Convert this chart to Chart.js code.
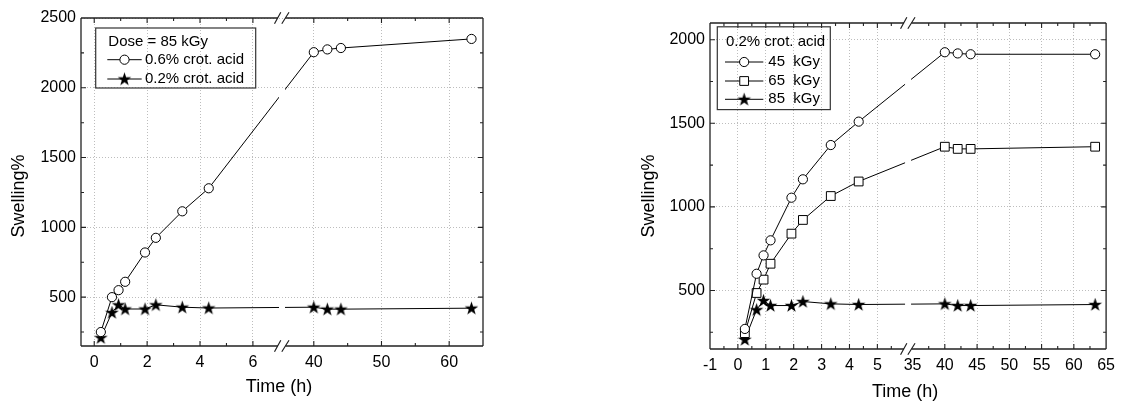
<!DOCTYPE html>
<html>
<head>
<meta charset="utf-8">
<script src="https://cdn.jsdelivr.net/npm/chart.js@4/dist/chart.umd.min.js"></script>
<style>
  html, body { margin: 0; padding: 0; background: #fff; }
  .panel { position: absolute; top: 0; width: 561px; height: 406px; }
</style>
</head>
<body>
<div class="panel" style="left:0"><canvas id="leftChart" width="561" height="406"></canvas></div>
<div class="panel" style="left:561px"><canvas id="rightChart" width="561" height="406"></canvas></div>
<script>
// time points (h), same for both panels
const times = [0.25, 0.67, 0.92, 1.17, 1.92, 2.33, 3.33, 4.33, 40, 42, 44, 63.3];

// left panel: dose = 85 kGy
const swell06 = [250, 500, 550, 610, 820, 925, 1115, 1280, 2255, 2275, 2285, 2350];
const swell02 = [210, 390, 445, 415, 415, 445, 428, 422, 428, 414, 414, 421];

// right panel: 0.2% crot. acid
const kgy45 = [270, 600, 710, 800, 1055, 1165, 1370, 1510, 1925, 1918, 1913, 1913];
const kgy65 = [245, 485, 565, 660, 840, 922, 1065, 1152, 1360, 1347, 1347, 1360];
const kgy85 = [207, 385, 440, 410, 410, 434, 420, 416, 420, 410, 410, 416];

// axes
const leftSegments = [[-0.5, 7.1], [35.3, 65]];
const leftXTicks = [0, 2, 4, 6, 40, 50, 60];
const leftXMinor = [1, 3, 5, 45, 55];
const leftYTicks = [500, 1000, 1500, 2000, 2500];
const leftYMinor = [250, 750, 1250, 1750, 2250];

const rightSegments = [[-1, 6.1], [34.3, 65]];
const rightXTicks = [-1, 0, 1, 2, 3, 4, 5, 35, 40, 45, 50, 55, 60, 65];
const rightXMinor = [-0.5, 0.5, 1.5, 2.5, 3.5, 4.5, 5.5, 37.5, 42.5, 47.5, 52.5, 57.5, 62.5];
const rightYTicks = [500, 1000, 1500, 2000];
const rightYMinor = [250, 750, 1250, 1750];

const FONT = "'Liberation Sans', Arial, sans-serif";
Chart.defaults.font.family = FONT;
Chart.defaults.font.size = 16;
Chart.defaults.color = '#000';

// linear scale with a break: each segment gets an equal share of the axis
class BrokenScale extends Chart.LinearScale {
  determineDataLimits() {
    const segs = this.options.segments;
    this.min = segs[0][0];
    this.max = segs[segs.length - 1][1];
  }
  buildTicks() {
    this.start = this.min;
    this.end = this.max;
    return this.options.tickValues.map(v => ({ value: v }));
  }
  getPixelForValue(value) {
    if (value === null || isNaN(value)) return NaN;
    const segs = this.options.segments;
    const n = segs.length;
    let i = 0;
    while (i < n - 1 && value > segs[i][1]) i++;
    const a = segs[i][0], b = segs[i][1];
    let f = (value - a) / (b - a);
    if (i > 0 && f < 0) f = 0;
    return this.getPixelForDecimal((i + f) / n);
  }
  getValueForPixel(pixel) {
    const segs = this.options.segments;
    const n = segs.length;
    const d = this.getDecimalForPixel(pixel) * n;
    const i = Math.min(n - 1, Math.max(0, Math.floor(d)));
    return segs[i][0] + (d - i) * (segs[i][1] - segs[i][0]);
  }
}
BrokenScale.id = 'broken';
BrokenScale.defaults = {};
Chart.register(BrokenScale);

// filled five-point star marker
const starImg = (function() {
  const c = document.createElement('canvas');
  c.width = 15; c.height = 15;
  const g = c.getContext('2d');
  g.beginPath();
  for (let i = 0; i < 10; i++) {
    const r = i % 2 ? 2.8 : 7.2;
    const ang = -Math.PI / 2 + i * Math.PI / 5;
    g.lineTo(7.5 + r * Math.cos(ang), 8 + r * Math.sin(ang));
  }
  g.closePath();
  g.fillStyle = '#000';
  g.fill();
  return c;
})();

function series(label, values, style, radius) {
  return {
    label: label,
    data: times.map((t, i) => ({ x: t, y: values[i] })),
    borderColor: '#000',
    borderWidth: 1,
    pointStyle: style,
    pointRadius: radius,
    pointHoverRadius: radius,
    pointBackgroundColor: '#fff',
    pointBorderColor: '#000',
    pointBorderWidth: 1,
    tension: 0,
    fill: false
  };
}

const framePlugin = {
  id: 'frame',
  beforeDatasetsDraw(chart, args, opts) {
    const { ctx, chartArea: a } = chart;
    const bx = chart.scales.x.getPixelForDecimal(0.5);
    ctx.save();
    ctx.beginPath();
    ctx.rect(0, 0, chart.width, chart.height);
    ctx.rect(bx - 3, a.top, 6, a.bottom - a.top);
    ctx.clip('evenodd');
  },
  afterDatasetsDraw(chart) {
    chart.ctx.restore();
  },
  afterDraw(chart, args, opts) {
    const { ctx, chartArea: a } = chart;
    const xs = chart.scales.x, ys = chart.scales.y;
    const bx = xs.getPixelForDecimal(0.5);
    ctx.save();
    ctx.strokeStyle = '#222';
    ctx.lineWidth = 1.3;

    // frame with gaps at the break
    ctx.beginPath();
    ctx.moveTo(a.left, a.top); ctx.lineTo(a.left, a.bottom);
    ctx.moveTo(a.right, a.top); ctx.lineTo(a.right, a.bottom);
    [a.top, a.bottom].forEach(y => {
      ctx.moveTo(a.left, y); ctx.lineTo(bx - 4, y);
      ctx.moveTo(bx + 3.5, y); ctx.lineTo(a.right, y);
    });
    ctx.stroke();

    // inward ticks on all four sides
    ctx.lineWidth = 1.1;
    ctx.beginPath();
    const xTick = (v, len) => {
      const p = xs.getPixelForValue(v);
      if (p <= a.left + 1 || p >= a.right - 1 || Math.abs(p - bx) < 5) return;
      ctx.moveTo(p, a.bottom); ctx.lineTo(p, a.bottom - len);
      ctx.moveTo(p, a.top); ctx.lineTo(p, a.top + len);
    };
    const yTick = (v, len) => {
      const p = ys.getPixelForValue(v);
      if (p <= a.top + 1 || p >= a.bottom - 1) return;
      ctx.moveTo(a.left, p); ctx.lineTo(a.left + len, p);
      ctx.moveTo(a.right, p); ctx.lineTo(a.right - len, p);
    };
    xs.ticks.forEach(t => xTick(t.value, 5));
    opts.xMinor.forEach(v => xTick(v, 3));
    ys.ticks.forEach(t => yTick(t.value, 5));
    opts.yMinor.forEach(v => yTick(v, 3));
    ctx.stroke();

    // break marks
    ctx.lineWidth = 1.2;
    ctx.beginPath();
    [a.top, a.bottom].forEach(y => {
      ctx.moveTo(bx - 7.5, y + 5.7); ctx.lineTo(bx - 1.2, y - 5.7);
      ctx.moveTo(bx - 0.2, y + 5.7); ctx.lineTo(bx + 7, y - 5.7);
    });
    ctx.stroke();

    // axis titles
    ctx.fillStyle = '#000';
    ctx.font = '18px ' + FONT;
    ctx.textAlign = 'center';
    ctx.textBaseline = 'middle';
    ctx.fillText('Time (h)', (a.left + a.right) / 2 - 3, a.bottom + opts.xTitleOffset);
    ctx.save();
    ctx.translate(a.left - opts.yTitleOffset, a.top + opts.yTitleCenter);
    ctx.rotate(-Math.PI / 2);
    ctx.fillText('Swelling%', 0, 0);
    ctx.restore();

    // legend box
    const L = opts.legend;
    const bx0 = a.left + L.x, by0 = a.top + L.y;
    ctx.strokeStyle = '#333';
    ctx.lineWidth = 1.2;
    ctx.strokeRect(bx0, by0, L.w, L.h);
    ctx.font = '15px ' + FONT;
    ctx.textAlign = 'left';
    ctx.fillText(L.title, bx0 + L.titleX, by0 + L.rows[0]);
    chart.data.datasets.forEach((ds, i) => {
      const y = by0 + L.rows[i + 1];
      ctx.strokeStyle = '#000';
      ctx.lineWidth = 1;
      ctx.beginPath();
      ctx.moveTo(bx0 + L.line[0], y);
      ctx.lineTo(bx0 + L.line[1], y);
      ctx.stroke();
      ctx.fillStyle = '#fff';
      Chart.helpers.drawPoint(ctx, {
        pointStyle: ds.pointStyle, radius: ds.pointRadius, borderWidth: 1, rotation: 0
      }, bx0 + (L.line[0] + L.line[1]) / 2, y);
      ctx.fillStyle = '#000';
      ctx.fillText(L.labels[i], bx0 + L.textX, y);
    });
    ctx.restore();
  }
};

function makeChart(id, cfg) {
  const hideGrid = cfg.hideGrid || [];
  return new Chart(document.getElementById(id), {
    type: 'line',
    data: { datasets: cfg.datasets },
    options: {
      responsive: false,
      animation: false,
      devicePixelRatio: 1,
      layout: { padding: cfg.padding },
      scales: {
        x: {
          type: 'broken',
          segments: cfg.segments,
          tickValues: cfg.xTicks,
          afterFit: s => { s.height = cfg.xHeight; },
          grid: {
            drawTicks: false,
            lineWidth: 1,
            color: c => (c.tick && hideGrid.includes(c.tick.value)) ? 'rgba(0,0,0,0)' : '#bdbdbd'
          },
          border: { display: false, dash: [1, 2] },
          ticks: { padding: 7, autoSkip: false, maxRotation: 0, callback: v => String(v) }
        },
        y: {
          type: 'linear',
          min: cfg.yMin,
          max: cfg.yMax,
          afterBuildTicks: s => { s.ticks = cfg.yTicks.map(v => ({ value: v })); },
          afterFit: s => { s.width = cfg.yWidth; },
          grid: { drawTicks: false, lineWidth: 1, color: '#bdbdbd' },
          border: { display: false, dash: [1, 2] },
          ticks: { padding: 5, callback: v => String(v) }
        }
      },
      plugins: {
        legend: { display: false },
        tooltip: { enabled: false },
        frame: cfg.frame
      }
    },
    plugins: [framePlugin]
  });
}

makeChart('leftChart', {
  datasets: [
    series('0.6% crot. acid', swell06, 'circle', 4.6),
    series('0.2% crot. acid', swell02, starImg, 7)
  ],
  segments: leftSegments,
  xTicks: leftXTicks,
  yTicks: leftYTicks,
  yMin: 150,
  yMax: 2500,
  padding: { left: 0, top: 18, right: 78, bottom: 0 },
  yWidth: 81,
  xHeight: 60,
  frame: {
    xMinor: leftXMinor,
    yMinor: leftYMinor,
    xTitleOffset: 41,
    yTitleOffset: 62,
    yTitleCenter: 178,
    legend: {
      x: 14.7, y: 10, w: 160, h: 60,
      title: 'Dose = 85 kGy',
      labels: ['0.6% crot. acid', '0.2% crot. acid'],
      titleX: 12.6, rows: [13.4, 31.7, 51],
      line: [11.6, 46], textX: 49.3
    }
  }
});

makeChart('rightChart', {
  datasets: [
    series('45  kGy', kgy45, 'circle', 4.6),
    series('65  kGy', kgy65, 'rect', 6.2),
    series('85  kGy', kgy85, starImg, 7)
  ],
  segments: rightSegments,
  xTicks: rightXTicks,
  hideGrid: [-1, 35, 65],
  yTicks: rightYTicks,
  yMin: 150,
  yMax: 2100,
  padding: { left: 0, top: 23, right: 13, bottom: 0 },
  yWidth: 149,
  xHeight: 57,
  frame: {
    xMinor: rightXMinor,
    yMinor: rightYMinor,
    xTitleOffset: 43,
    yTitleOffset: 61,
    yTitleCenter: 173,
    legend: {
      x: 7.3, y: 3.8, w: 113, h: 82.8,
      title: '0.2% crot. acid',
      labels: ['45  kGy', '65  kGy', '85  kGy'],
      titleX: 8.7, rows: [15.2, 35.2, 54.2, 72.5],
      line: [7.7, 46], textX: 51
    }
  }
});
</script>
</body>
</html>
